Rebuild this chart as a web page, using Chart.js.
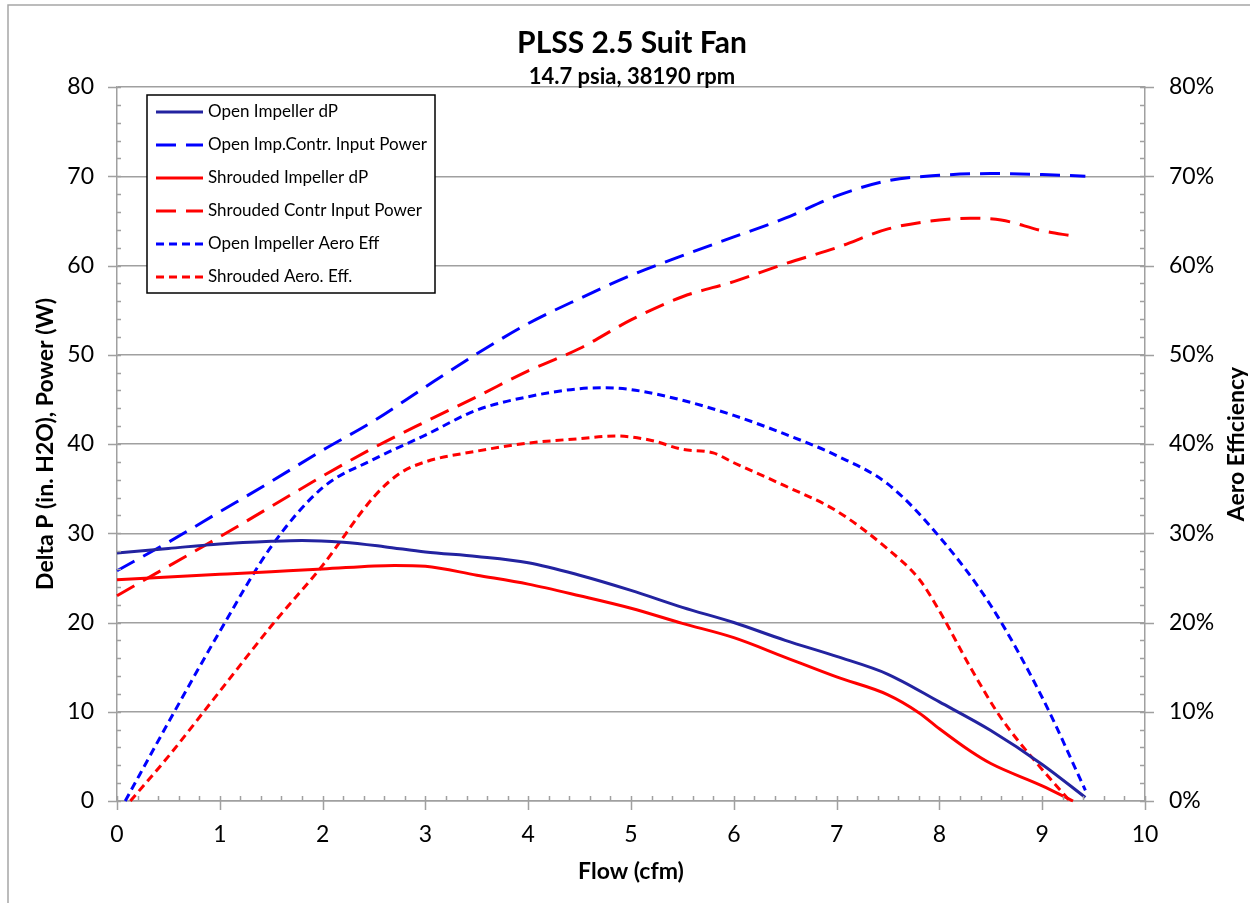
<!DOCTYPE html>
<html>
<head>
<meta charset="utf-8">
<script src="https://cdn.jsdelivr.net/npm/chart.js@4/dist/chart.umd.min.js"></script>
<style>
  body { margin: 0; background: #fff; }
  #wrap { width: 1250px; height: 903px; position: relative; }
</style>
</head>
<body>
<div id="wrap"><canvas id="fanChart" width="1250" height="903"></canvas></div>
<script>
// Flow (cfm) and readings for each series
const openDpFlow = [0, 0.5, 1, 1.5, 1.8, 2.2, 2.6, 3, 3.5, 4, 4.5, 5, 5.5, 6, 6.5, 7, 7.5, 8, 8.5, 9, 9.42];
const openDp = [27.8, 28.3, 28.8, 29.1, 29.2, 29.0, 28.5, 27.9, 27.4, 26.7, 25.3, 23.6, 21.7, 20.0, 18.0, 16.2, 14.2, 11.1, 7.9, 4.1, 0.4];

const openPowerFlow = [0, 0.5, 1, 1.5, 2, 2.5, 3, 3.5, 4, 4.5, 5, 5.5, 6, 6.5, 7, 7.5, 8, 8.5, 9, 9.42];
const openPower = [25.8, 29.0, 32.4, 35.8, 39.3, 42.6, 46.4, 50.1, 53.5, 56.3, 58.9, 61.1, 63.2, 65.3, 67.8, 69.5, 70.1, 70.3, 70.2, 70.0];

const shroudDpFlow = [0, 0.5, 1, 1.5, 2, 2.7, 3, 3.5, 4, 4.5, 5, 5.5, 6, 6.5, 7, 7.5, 7.8, 8, 8.3, 8.5, 9, 9.3];
const shroudDp = [24.8, 25.1, 25.4, 25.7, 26.0, 26.4, 26.3, 25.3, 24.3, 23.0, 21.6, 19.9, 18.3, 16.1, 13.9, 11.9, 9.9, 8.1, 5.6, 4.2, 1.7, 0];

const shroudPowerFlow = [0, 0.5, 1, 1.5, 2, 2.5, 3, 3.5, 4, 4.5, 5, 5.5, 6, 6.5, 7, 7.5, 8, 8.3, 8.6, 9, 9.3];
const shroudPower = [23.0, 26.3, 29.6, 33.0, 36.4, 39.6, 42.5, 45.3, 48.2, 50.7, 53.9, 56.5, 58.2, 60.2, 62.0, 64.1, 65.1, 65.3, 65.1, 63.9, 63.3];

const openEffFlow = [0.08, 0.5, 1, 1.5, 2, 2.5, 3, 3.5, 4, 4.5, 4.75, 5, 5.5, 6, 6.5, 7, 7.5, 8, 8.5, 9, 9.42];
const openEff = [0, 8.8, 19.0, 28.5, 35.1, 38.3, 41.0, 43.8, 45.3, 46.2, 46.3, 46.1, 44.9, 43.2, 41.1, 38.7, 35.5, 29.6, 21.9, 11.6, 1.2];

const shroudEffFlow = [0.13, 0.5, 1, 1.5, 2, 2.5, 2.75, 3, 3.5, 4, 4.5, 4.85, 5.2, 5.5, 5.8, 6, 6.5, 7, 7.5, 7.8, 8, 8.3, 8.6, 8.95, 9.27];
const shroudEff = [0, 5.0, 12.3, 19.6, 26.4, 34.1, 36.7, 38.0, 39.2, 40.1, 40.6, 40.9, 40.4, 39.4, 39.0, 37.9, 35.3, 32.5, 28.2, 24.9, 21.3, 15.0, 9.3, 4.2, 0];

const seriesNames = ['Open Impeller dP', 'Open Imp.Contr. Input Power', 'Shrouded Impeller dP',
  'Shrouded Contr Input Power', 'Open Impeller Aero Eff', 'Shrouded Aero. Eff.'];

const leftTicks = [0, 10, 20, 30, 40, 50, 60, 70, 80];
const xTicks = [0, 1, 2, 3, 4, 5, 6, 7, 8, 9, 10];

const NAVY = '#2323a0';
const BLUE = '#0000ff';
const RED = '#ff0000';
const GRID = '#a0a0a0';
const FONT = 'Lato, "Open Sans", sans-serif';

const LONG_DASH = [20, 10];
const SHORT_DASH = [8, 5];

function pts(xs, ys) {
  return xs.map((x, i) => ({ x: x, y: ys[i] }));
}

function line(label, xs, ys, color, dash, axis) {
  return {
    label: label,
    data: pts(xs, ys),
    borderColor: color,
    backgroundColor: color,
    borderWidth: 3,
    borderDash: dash,
    pointRadius: 0,
    cubicInterpolationMode: 'monotone',
    fill: false,
    clip: 4,
    yAxisID: axis
  };
}

// Titles, legend box, tick marks and frame
const decor = {
  id: 'decor',
  afterDraw(chart) {
    const c = chart.ctx;
    const area = chart.chartArea;
    const xs = chart.scales.x, yl = chart.scales.y, yr = chart.scales.y2;

    c.save();
    // outer chart frame
    c.strokeStyle = '#a6a6a6';
    c.lineWidth = 1.5;
    c.strokeRect(8, 5, 1400, 1000);

    // tick marks: major cross, minor inside
    c.strokeStyle = GRID;
    c.lineWidth = 1.5;
    c.beginPath();
    for (let v = 0; v <= 10.001; v += 0.2) {
      const px = Math.round(xs.getPixelForValue(v)) + 0.5;
      const major = Math.abs(v - Math.round(v)) < 0.01;
      c.moveTo(px, area.bottom + (major ? 9 : 0));
      c.lineTo(px, area.bottom - 5);
    }
    for (let v = 0; v <= 80.001; v += 2) {
      const pl = Math.round(yl.getPixelForValue(v)) + 0.5;
      const major = v % 10 === 0;
      c.moveTo(area.left - (major ? 9 : 0), pl);
      c.lineTo(area.left + 4, pl);
      const pr = Math.round(yr.getPixelForValue(v)) + 0.5;
      c.moveTo(area.right + (major ? 9 : 0), pr);
      c.lineTo(area.right - 5, pr);
    }
    c.stroke();

    // chart title and subtitle
    c.fillStyle = '#000';
    c.textAlign = 'center';
    c.textBaseline = 'middle';
    c.font = 'bold 30px ' + FONT;
    c.fillText('PLSS 2.5 Suit Fan', 632, 43);
    c.font = 'bold 22px ' + FONT;
    c.fillText('14.7 psia, 38190 rpm', 632, 77);

    // axis titles
    c.font = 'bold 23px ' + FONT;
    c.fillText('Flow (cfm)', (area.left + area.right) / 2, 872);
    const midY = (area.top + area.bottom) / 2;
    c.save();
    c.translate(46, midY);
    c.rotate(-Math.PI / 2);
    c.fillText('Delta P (in. H2O), Power (W)', 0, 0);
    c.restore();
    c.save();
    c.translate(1237, midY);
    c.rotate(-Math.PI / 2);
    c.fillText('Aero Efficiency', 0, 0);
    c.restore();

    // legend box inside plot
    const bx = 147, by = 95, bw = 288, bh = 198;
    c.fillStyle = '#fff';
    c.fillRect(bx, by, bw, bh);
    c.strokeStyle = '#000';
    c.lineWidth = 1.5;
    c.strokeRect(bx, by, bw, bh);
    c.font = '17px ' + FONT;
    c.textAlign = 'left';
    chart.data.datasets.forEach((ds, i) => {
      const ry = 112 + i * 33;
      c.strokeStyle = ds.borderColor;
      c.lineWidth = 3;
      c.setLineDash(ds.borderDash || []);
      c.beginPath();
      c.moveTo(156, ry);
      c.lineTo(203, ry);
      c.stroke();
      c.setLineDash([]);
      c.fillStyle = '#000';
      c.fillText(ds.label, 208, ry);
    });
    c.restore();
  }
};

new Chart(document.getElementById('fanChart'), {
  type: 'line',
  data: {
    datasets: [
      line(seriesNames[0], openDpFlow, openDp, NAVY, [], 'y'),
      line(seriesNames[1], openPowerFlow, openPower, BLUE, LONG_DASH, 'y'),
      line(seriesNames[2], shroudDpFlow, shroudDp, RED, [], 'y'),
      line(seriesNames[3], shroudPowerFlow, shroudPower, RED, LONG_DASH, 'y'),
      line(seriesNames[4], openEffFlow, openEff, BLUE, SHORT_DASH, 'y2'),
      line(seriesNames[5], shroudEffFlow, shroudEff, RED, SHORT_DASH, 'y2')
    ]
  },
  options: {
    responsive: false,
    animation: false,
    layout: { padding: { top: 87, left: 0, right: 0, bottom: 0 } },
    plugins: {
      legend: { display: false },
      title: { display: false },
      tooltip: { enabled: false }
    },
    scales: {
      x: {
        type: 'linear',
        min: 0,
        max: 10,
        afterFit: s => { s.height = 102; },
        afterBuildTicks: s => { s.ticks = xTicks.map(v => ({ value: v })); },
        grid: { display: false, drawTicks: false },
        border: { display: true, color: GRID, width: 1.5 },
        ticks: { color: '#000', font: { family: FONT, size: 23 }, padding: 20, maxRotation: 0 }
      },
      y: {
        position: 'left',
        min: 0,
        max: 80,
        afterFit: s => { s.width = 117; },
        afterBuildTicks: s => { s.ticks = leftTicks.map(v => ({ value: v })); },
        grid: { color: GRID, lineWidth: 1.5, drawTicks: false },
        border: { display: true, color: GRID, width: 1.5 },
        ticks: { color: '#000', font: { family: FONT, size: 23 }, padding: 23 }
      },
      y2: {
        position: 'right',
        min: 0,
        max: 80,
        afterFit: s => { s.width = 105; },
        afterBuildTicks: s => { s.ticks = leftTicks.map(v => ({ value: v })); },
        grid: { display: false, drawTicks: false },
        border: { display: true, color: GRID, width: 1.5 },
        ticks: { color: '#000', font: { family: FONT, size: 23 }, padding: 24, callback: v => v + '%' }
      }
    }
  },
  plugins: [decor]
});
</script>
</body>
</html>
